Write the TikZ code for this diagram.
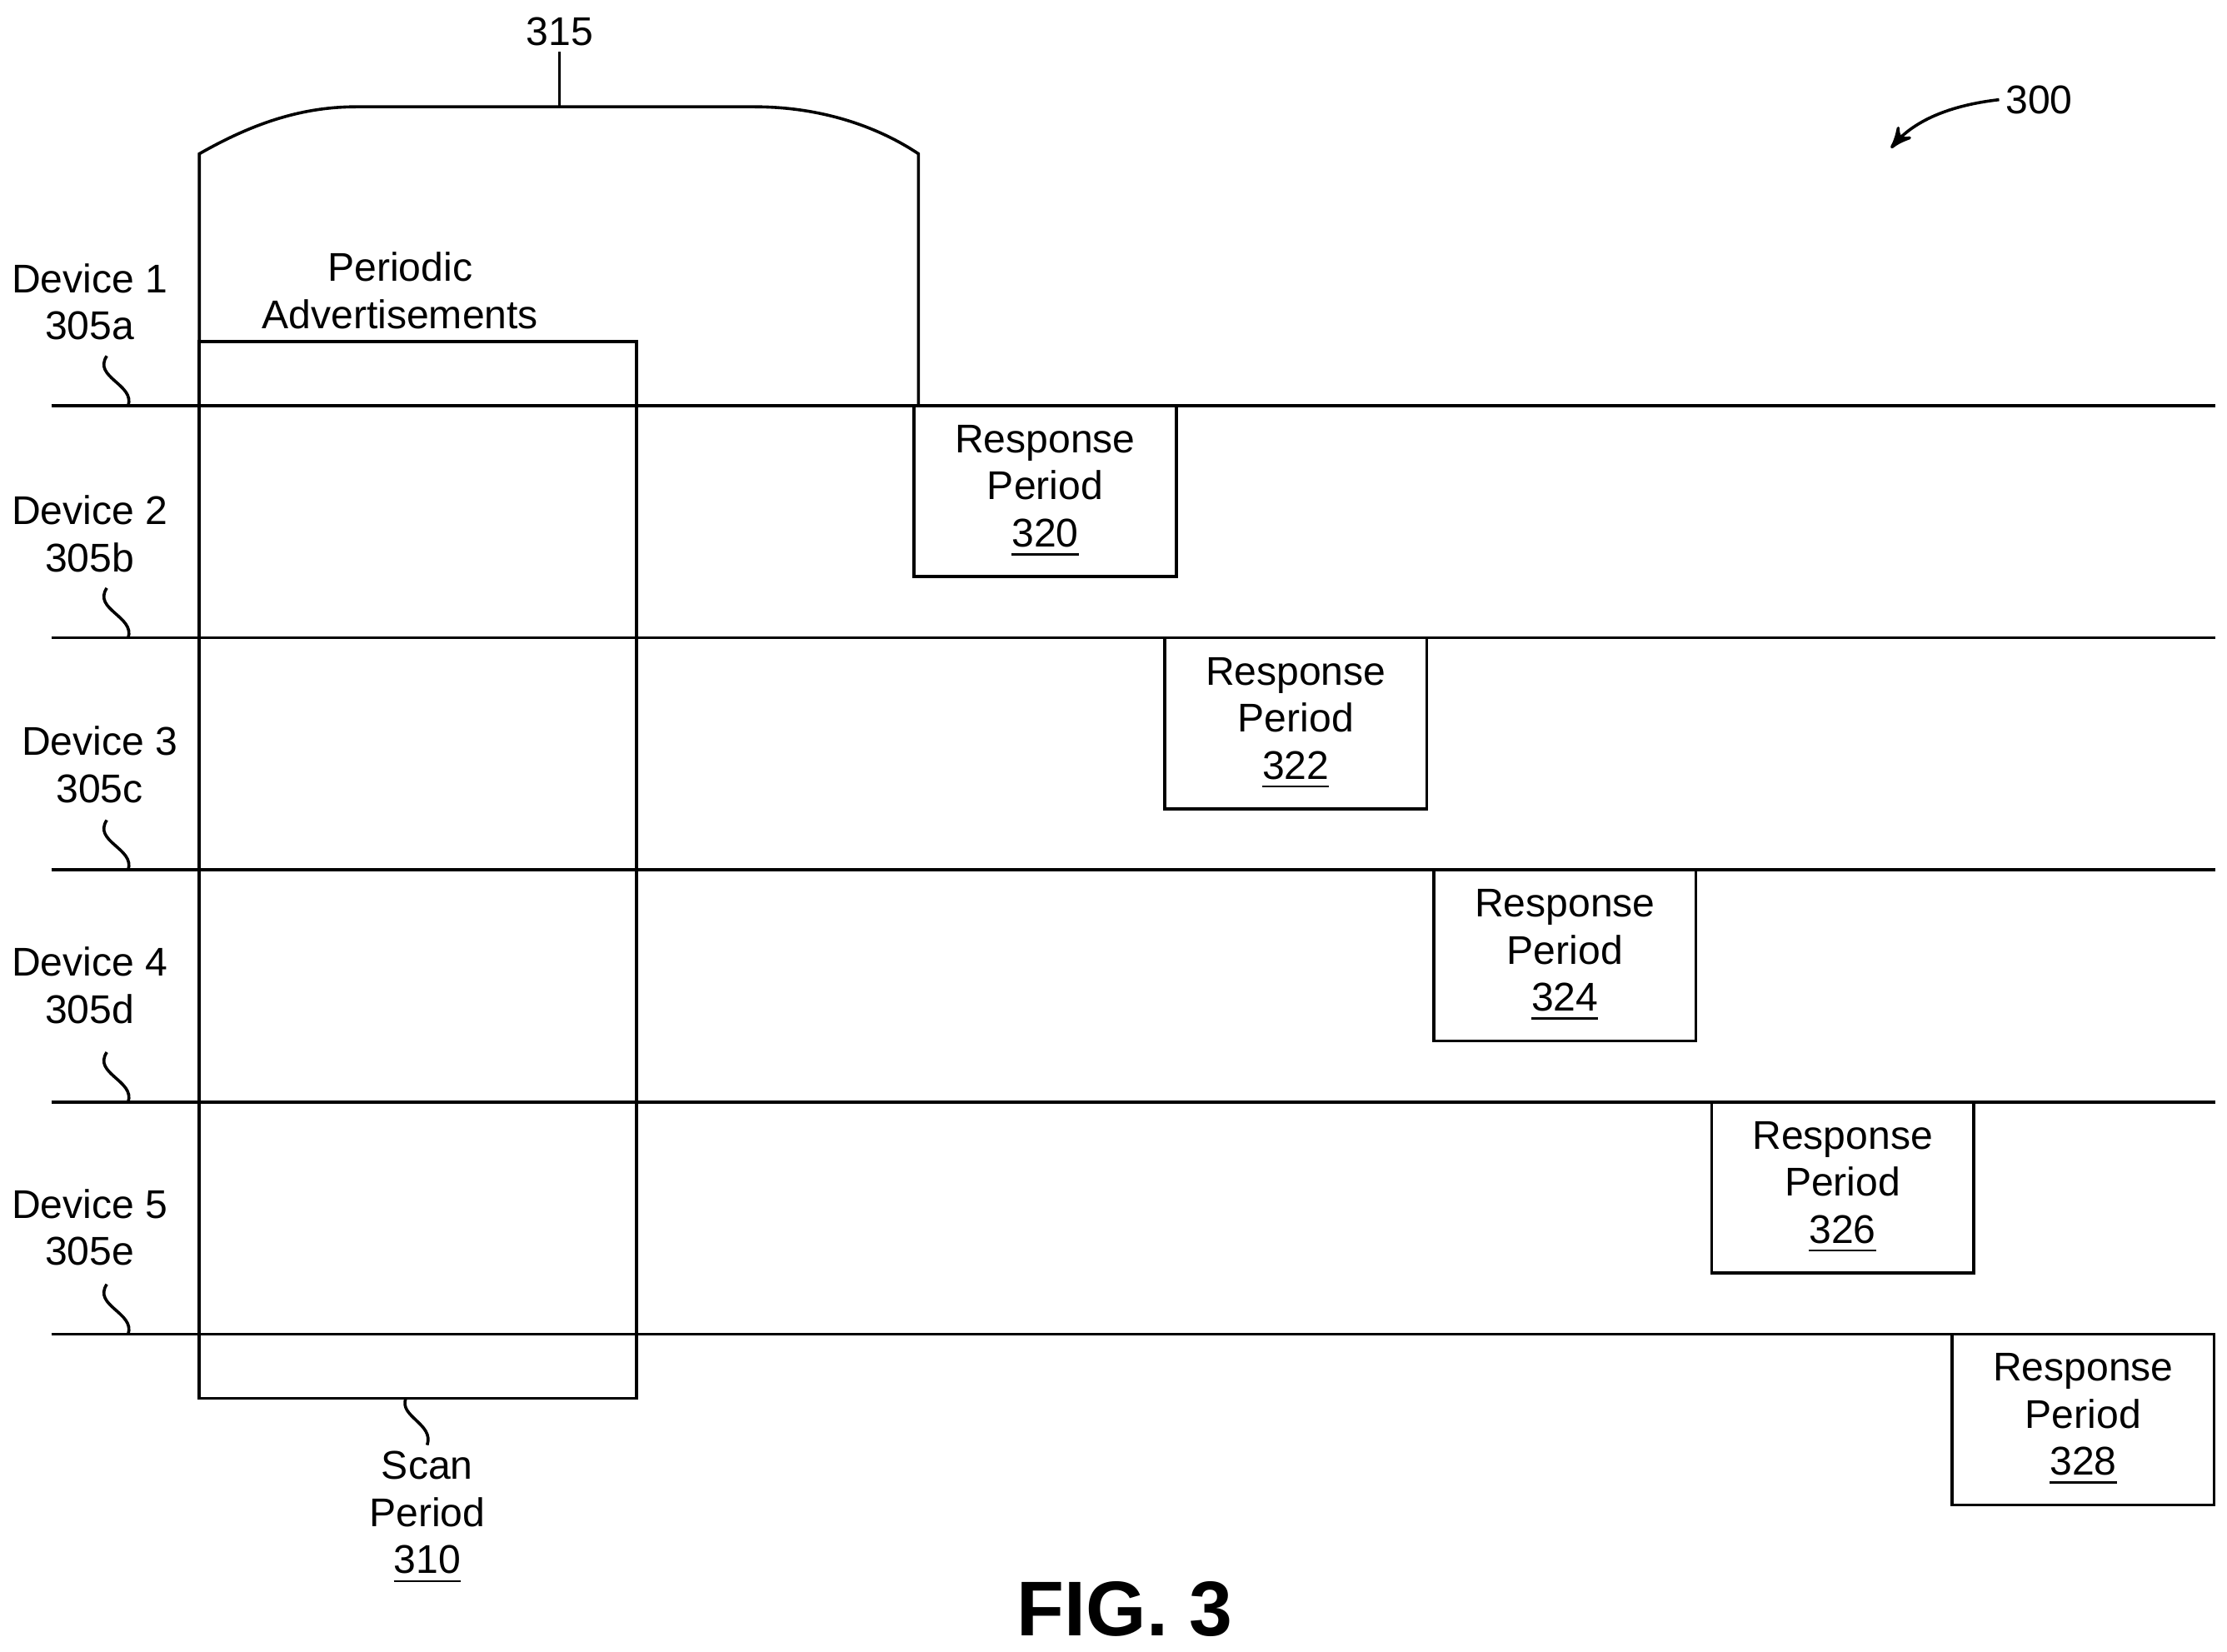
\documentclass[tikz,border=0pt]{standalone}
\usepackage{fontspec}
\setmainfont{Liberation Sans}
\usetikzlibrary{arrows}
\begin{document}
\begin{tikzpicture}[x=0.01cm,y=-0.01cm,>=stealth',line width=0.6pt,
  lbl/.style={align=center,inner sep=1pt,font=\fontsize{8}{9.4}\selectfont}]
\useasboundingbox (0,0) rectangle (1564,1160);
%%%DEVICE LINES
\foreach \y/\n/\d/\c/\lx in {285/1/a/212/63,448/2/b/375/63,611/3/c/537/70,774/4/d/692/63,937/5/e/862/63}{
  \coordinate (l\n) at (36,\y);
  \coordinate (r\n) at (1556,\y);
  \draw (l\n) -- (r\n);
  \node[lbl] (dev\n) at (\lx,\c) {Device \n\\305\d};
  \draw (75,\y-35) .. controls (65,\y-20) and (95,\y-15) .. (90,\y);
}
%%%SCAN PERIOD
\draw (140,240) rectangle (447,982);
\node[lbl] (adv) at (281,204) {Periodic\\Advertisements};
\node[lbl] (scan) at (300,1066) {Scan\\Period\\\underline{310}};
\draw (285,982) .. controls (280,995) and (305,1000) .. (scan.north);
%%%BRACKET 315
\draw (140,240) -- (140,108) .. controls (175,88) and (210,75) .. (250,75) -- (530,75)
  .. controls (575,75) and (615,88) .. (645,108) -- (645,285);
\node[lbl] (b315) at (393,22) {315};
\draw (393,75) -- (b315.south);
%%%RESPONSE PERIODS
\foreach \x/\y/\m in {642/285/320,818/448/322,1007/611/324,1202/774/326,1371/937/328}{
  \draw (\x,\y) rectangle (\x+184,\y+120);
  \node[lbl] (rp\m) at (\x+92,\y+60) {Response\\Period\\\underline{\m}};
}
%%%FIGURE NUMBER
\node[lbl] (n300) at (1432,70) {300};
\draw[->] (n300.west) .. controls (1360,75) and (1340,90) .. (1328,104);
\node[font=\bfseries\fontsize{15.5}{18}\selectfont] (fig) at (790,1130) {FIG. 3};
\end{tikzpicture}
\end{document}
